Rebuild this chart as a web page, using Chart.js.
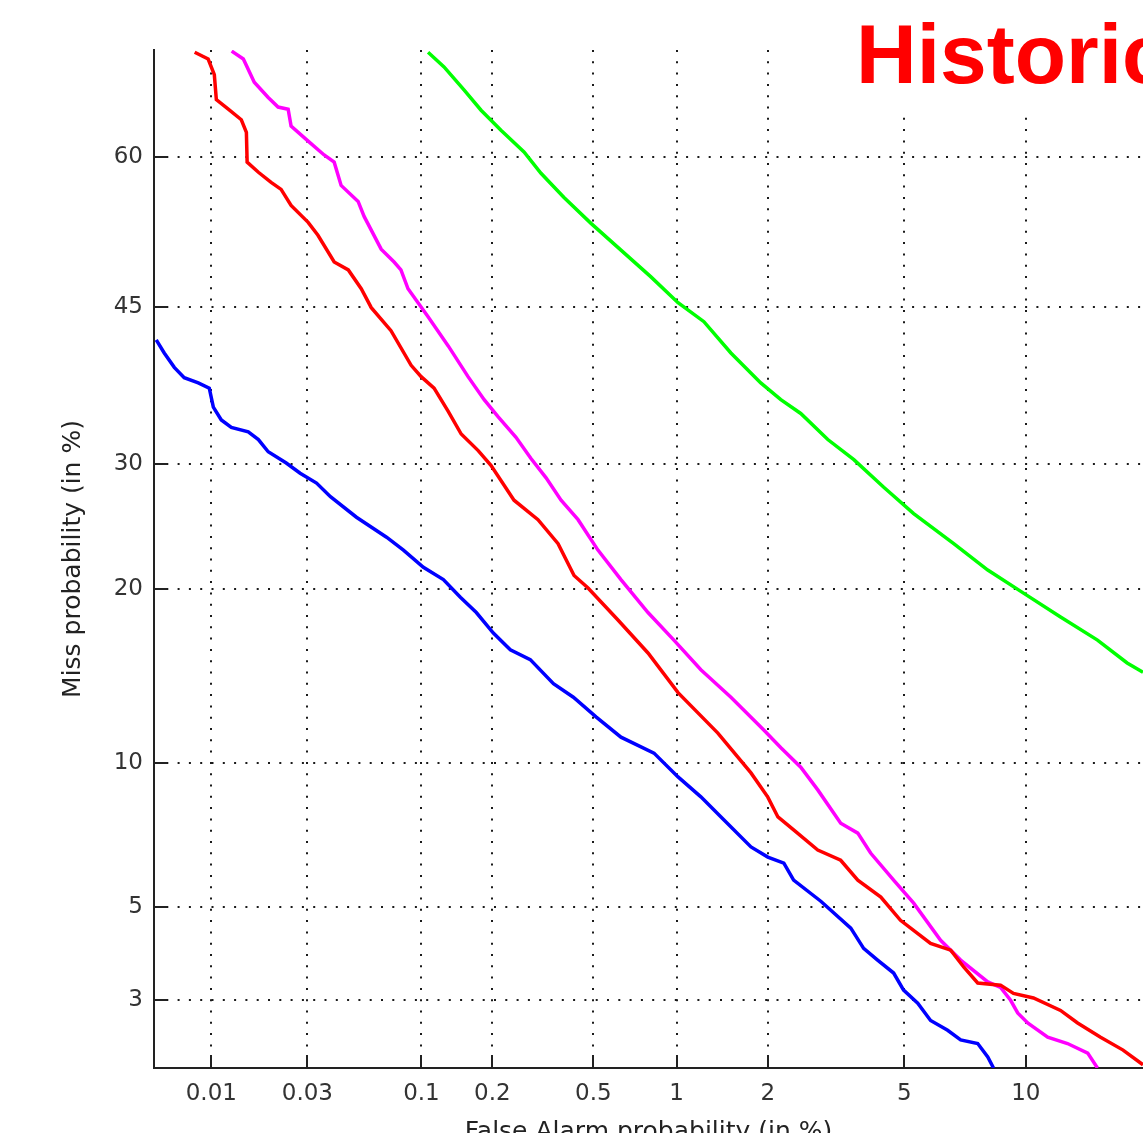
<!DOCTYPE html>
<html>
<head>
<meta charset="utf-8">
<script src="https://cdn.jsdelivr.net/npm/chart.js@4.4.1/dist/chart.umd.min.js"></script>
<style>
  html, body { margin:0; padding:0; background:#fff; width:1143px; height:1133px; overflow:hidden; }
  #c { position:absolute; left:0; top:0; }
</style>
</head>
<body>
<canvas id="c" width="1143" height="1160"></canvas>
<script>
// ---- axis definitions (values in %) ----
const faTickValues   = [0.01, 0.03, 0.1, 0.2, 0.5, 1, 2, 5, 10];
const faTickLabels   = ['0.01', '0.03', '0.1', '0.2', '0.5', '1', '2', '5', '10'];
const missTickValues = [3, 5, 10, 20, 30, 45, 60];
const missTickLabels = ['3', '5', '10', '20', '30', '45', '60'];
const faRange   = [0.005, 17.6];
const missRange = [2, 70];
const titleText = 'Historical';
const xTitle = 'False Alarm probability (in %)';
const yTitle = 'Miss probability (in %)';

// ---- series (false alarm %, miss %) ----
const redFA   = [0.0082,0.00963,0.01036,0.01061,0.01221,0.01421,0.01507,0.0152,0.0173,0.0200,0.02239,0.02504,0.03026,0.0337,0.04021,0.0468,0.0537,0.0597,0.0733,0.0901,0.0997,0.1135,0.1306,0.1483,0.1748,0.1974,0.2453,0.3059,0.3667,0.4226,0.4777,0.6174,0.7929,1.011,1.3795,1.769,2.001,2.152,2.406,2.845,3.322,3.719,4.314,4.881,5.862,6.602,7.113,7.702,8.739,9.370,10.41,11.95,13.00,14.51,16.1,17.6];
const redMiss = [69.8,69.2,67.8,65.5,64.6,63.6,62.4,59.5,58.5,57.5,56.8,55.2,53.5,52.2,49.5,48.7,46.8,44.9,42.6,39.2,38.1,37.0,34.8,32.7,31.2,29.9,26.9,25.3,23.4,21.0,20.1,17.9,15.8,13.5,11.4,9.57,8.57,7.81,7.34,6.66,6.33,5.73,5.25,4.65,4.11,3.96,3.61,3.30,3.26,3.11,3.03,2.82,2.62,2.41,2.23,2.04];

const magentaFA   = [0.0127,0.01455,0.0165,0.01935,0.02164,0.02423,0.02504,0.03026,0.03606,0.04021,0.04333,0.05196,0.05536,0.0662,0.0757,0.0812,0.0873,0.1069,0.1306,0.1585,0.1851,0.2111,0.2498,0.2869,0.3292,0.3766,0.4377,0.5204,0.6332,0.7929,0.978,1.210,1.523,1.943,2.198,2.529,2.845,3.322,3.719,4.041,4.677,5.293,6.221,6.991,8.146,8.739,9.226,9.582,10.10,11.20,12.37,13.65,14.30];
const magentaMiss = [69.9,69.2,67.1,65.7,64.8,64.6,63.0,61.55,60.2,59.5,57.2,55.6,54.1,50.8,49.5,48.7,46.8,44.0,41.1,38.1,35.9,34.3,32.4,30.5,28.8,26.9,25.3,22.9,20.7,18.4,16.6,14.8,13.25,11.55,10.7,9.82,8.86,7.58,7.23,6.56,5.73,5.09,4.18,3.75,3.32,3.22,2.99,2.78,2.62,2.41,2.32,2.19,2.0];

const greenFA   = [0.1069,0.1253,0.1524,0.1797,0.2171,0.2691,0.3144,0.3866,0.4901,0.6332,0.8122,1.011,1.239,1.523,1.901,2.197,2.529,3.046,3.624,4.395,5.293,6.717,8.146,9.922,11.95,14.30,16.4,17.6];
const greenMiss = [69.8,68.5,66.4,64.5,62.6,60.5,58.4,56.0,53.4,50.7,48.0,45.4,43.5,40.4,37.5,35.9,34.6,32.2,30.4,28.0,25.8,23.4,21.4,19.7,18.1,16.6,15.2,14.65];

const blueFA   = [0.00514,0.00567,0.00641,0.00723,0.00856,0.00976,0.01024,0.01125,0.01265,0.0154,0.0173,0.01935,0.02372,0.0277,0.03318,0.03862,0.05105,0.0700,0.0833,0.1020,0.1245,0.1471,0.1717,0.2020,0.2370,0.2851,0.3518,0.4200,0.5131,0.6332,0.8327,1.011,1.210,1.413,1.769,2.001,2.245,2.406,2.905,3.552,3.863,4.226,4.677,4.975,5.426,5.862,6.483,6.991,7.702,8.146,8.41];
const blueMiss = [41.7,40.4,39.0,38.0,37.5,37.0,35.2,34.0,33.3,32.9,32.2,31.1,30.1,29.2,28.35,27.2,25.5,23.9,22.9,21.6,20.7,19.45,18.4,17.05,16.0,15.4,14.0,13.25,12.2,11.2,10.45,9.40,8.58,7.81,6.76,6.43,6.24,5.73,5.14,4.46,4.00,3.75,3.49,3.17,2.94,2.66,2.51,2.37,2.32,2.14,2.0];

// ---- normal deviate (probit) transform used by DET plots ----
function probit(p) {
  const a=[-3.969683028665376e+01,2.209460984245205e+02,-2.759285104469687e+02,1.383577518672690e+02,-3.066479806614716e+01,2.506628277459239e+00];
  const b=[-5.447609879822406e+01,1.615858368580409e+02,-1.556989798598866e+02,6.680131188771972e+01,-1.328068155288572e+01];
  const c=[-7.784894002430293e-03,-3.223964580411365e-01,-2.400758277161838e+00,-2.549732539343734e+00,4.374664141464968e+00,2.938163982698783e+00];
  const d=[7.784695709041462e-03,3.224671290700398e-01,2.445134137142996e+00,3.754408661907416e+00];
  const pl=0.02425, ph=1-pl;
  let q, r;
  if (p < pl) { q=Math.sqrt(-2*Math.log(p)); return (((((c[0]*q+c[1])*q+c[2])*q+c[3])*q+c[4])*q+c[5])/((((d[0]*q+d[1])*q+d[2])*q+d[3])*q+1); }
  if (p <= ph) { q=p-0.5; r=q*q; return (((((a[0]*r+a[1])*r+a[2])*r+a[3])*r+a[4])*r+a[5])*q/(((((b[0]*r+b[1])*r+b[2])*r+b[3])*r+b[4])*r+1); }
  q=Math.sqrt(-2*Math.log(1-p)); return -(((((c[0]*q+c[1])*q+c[2])*q+c[3])*q+c[4])*q+c[5])/((((d[0]*q+d[1])*q+d[2])*q+d[3])*q+1);
}
const toPts = (fa, miss) => fa.map((v, i) => ({ x: probit(v / 100), y: probit(miss[i] / 100) }));

const series = [
  { fa: blueFA, miss: blueMiss, color: '#0000ff' },
  { fa: redFA, miss: redMiss, color: '#ff0000' },
  { fa: magentaFA, miss: magentaMiss, color: '#ff00ff' },
  { fa: greenFA, miss: greenMiss, color: '#00ff00' }
];

const tickFont  = { family: 'DejaVu Sans', size: 23 };
const titleFont = { family: 'DejaVu Sans', size: 25 };

const overlay = {
  id: 'overlay',
  afterDraw(chart) {
    const { ctx, chartArea: a, scales: { x, y } } = chart;
    ctx.save();
    ctx.strokeStyle = '#222';
    ctx.lineWidth = 2;
    ctx.beginPath();
    x.ticks.forEach(t => { const px = Math.round(x.getPixelForValue(t.value)); ctx.moveTo(px, a.bottom); ctx.lineTo(px, a.bottom - 13); });
    y.ticks.forEach(t => { const py = Math.round(y.getPixelForValue(t.value)); ctx.moveTo(a.left, py); ctx.lineTo(a.left + 13, py); });
    ctx.stroke();
    ctx.fillStyle = '#ffffff';
    ctx.fillRect(850, 0, chart.width - 850, 110);
    ctx.fillStyle = '#ff0000';
    ctx.font = 'bold 84px "Liberation Sans", Arial, sans-serif';
    ctx.textBaseline = 'alphabetic';
    ctx.textAlign = 'left';
    ctx.fillText(titleText, 856, 83);
    ctx.restore();
  }
};

new Chart(document.getElementById('c'), {
  type: 'line',
  data: {
    datasets: series.map(s => ({
      data: toPts(s.fa, s.miss),
      borderColor: s.color,
      backgroundColor: s.color,
      borderWidth: 3.5,
      pointRadius: 0,
      tension: 0,
      fill: false
    }))
  },
  options: {
    responsive: false,
    animation: false,
    layout: { padding: { top: 50, right: 0, bottom: 0, left: 0 } },
    plugins: { legend: { display: false }, tooltip: { enabled: false } },
    scales: {
      x: {
        type: 'linear',
        min: probit(faRange[0] / 100),
        max: probit(faRange[1] / 100),
        afterBuildTicks: s => { s.ticks = faTickValues.map(v => ({ value: probit(v / 100) })); },
        afterFit: s => { s.height = 92; },
        ticks: { autoSkip: false, maxRotation: 0, minRotation: 0, padding: 12, color: '#333', font: tickFont,
                 callback: (v, i) => faTickLabels[i] },
        grid: { color: '#1a1a1a', lineWidth: 2, drawTicks: false },
        border: { display: true, color: '#222', width: 2, dash: [2, 9.3] },
        title: { display: true, text: xTitle, color: '#222', font: titleFont, padding: { top: 0, bottom: 13 } }
      },
      y: {
        type: 'linear',
        min: probit(missRange[0] / 100),
        max: probit(missRange[1] / 100),
        afterBuildTicks: s => { s.ticks = missTickValues.map(v => ({ value: probit(v / 100) })); },
        afterFit: s => { s.width = 154; },
        ticks: { autoSkip: false, padding: 11, color: '#333', font: tickFont,
                 callback: (v, i) => missTickLabels[i] },
        grid: { color: '#1a1a1a', lineWidth: 2, drawTicks: false },
        border: { display: true, color: '#222', width: 2, dash: [2, 9.3] },
        title: { display: true, text: yTitle, color: '#222', font: titleFont, padding: { top: 58, bottom: 0 } }
      }
    }
  },
  plugins: [overlay]
});
</script>
</body>
</html>
